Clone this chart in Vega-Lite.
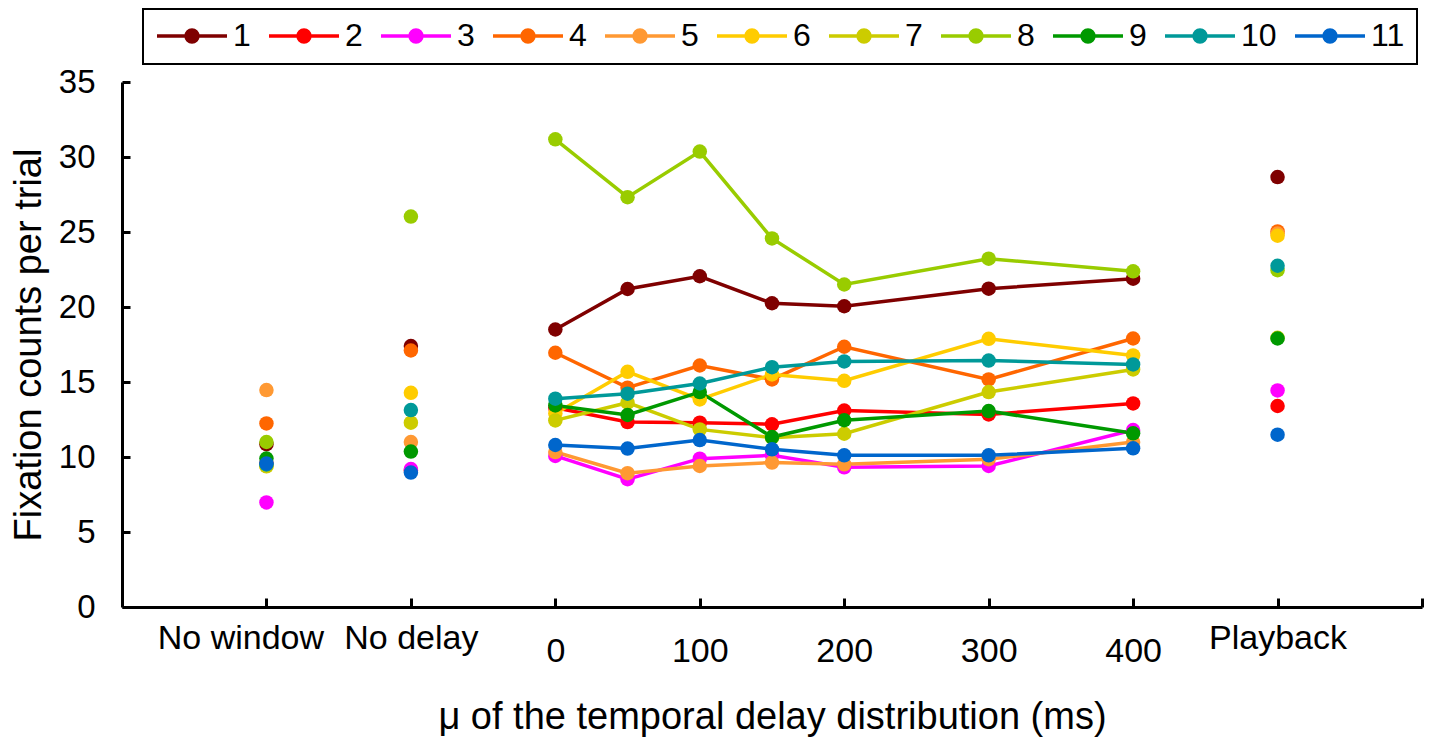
{
  "$schema": "https://vega.github.io/schema/vega-lite/v6.json",
  "width": 1300,
  "height": 525,
  "autosize": "none",
  "padding": {"left": 122, "top": 82, "right": 7, "bottom": 141},
  "background": "white",
  "config": {"view": {"stroke": null}, "font": "Liberation Sans"},
  "data": {
    "values": [
      {"subject": 1, "delay": -200, "fixations": 10.85},
      {"subject": 1, "delay": -100, "fixations": 17.4},
      {"subject": 1, "delay": 0, "fixations": 18.5},
      {"subject": 1, "delay": 50, "fixations": 21.2},
      {"subject": 1, "delay": 100, "fixations": 22.05},
      {"subject": 1, "delay": 150, "fixations": 20.25},
      {"subject": 1, "delay": 200, "fixations": 20.05},
      {"subject": 1, "delay": 300, "fixations": 21.22},
      {"subject": 1, "delay": 400, "fixations": 21.89},
      {"subject": 1, "delay": 500, "fixations": 28.66},
      {"subject": 2, "delay": -200, "fixations": 9.6},
      {"subject": 2, "delay": -100, "fixations": 9.1},
      {"subject": 2, "delay": 0, "fixations": 13.28},
      {"subject": 2, "delay": 50, "fixations": 12.33},
      {"subject": 2, "delay": 100, "fixations": 12.29},
      {"subject": 2, "delay": 150, "fixations": 12.18},
      {"subject": 2, "delay": 200, "fixations": 13.1},
      {"subject": 2, "delay": 300, "fixations": 12.84},
      {"subject": 2, "delay": 400, "fixations": 13.57},
      {"subject": 2, "delay": 500, "fixations": 13.4},
      {"subject": 3, "delay": -200, "fixations": 6.97},
      {"subject": 3, "delay": -100, "fixations": 9.2},
      {"subject": 3, "delay": 0, "fixations": 10.07},
      {"subject": 3, "delay": 50, "fixations": 8.52},
      {"subject": 3, "delay": 100, "fixations": 9.89},
      {"subject": 3, "delay": 150, "fixations": 10.11},
      {"subject": 3, "delay": 200, "fixations": 9.31},
      {"subject": 3, "delay": 300, "fixations": 9.4},
      {"subject": 3, "delay": 400, "fixations": 11.8},
      {"subject": 3, "delay": 500, "fixations": 14.44},
      {"subject": 4, "delay": -200, "fixations": 12.24},
      {"subject": 4, "delay": -100, "fixations": 17.1},
      {"subject": 4, "delay": 0, "fixations": 16.95},
      {"subject": 4, "delay": 50, "fixations": 14.62},
      {"subject": 4, "delay": 100, "fixations": 16.1},
      {"subject": 4, "delay": 150, "fixations": 15.17},
      {"subject": 4, "delay": 200, "fixations": 17.35},
      {"subject": 4, "delay": 300, "fixations": 15.17},
      {"subject": 4, "delay": 400, "fixations": 17.9},
      {"subject": 4, "delay": 500, "fixations": 25.04},
      {"subject": 5, "delay": -200, "fixations": 14.46},
      {"subject": 5, "delay": -100, "fixations": 11.0},
      {"subject": 5, "delay": 0, "fixations": 10.33},
      {"subject": 5, "delay": 50, "fixations": 8.92},
      {"subject": 5, "delay": 100, "fixations": 9.4},
      {"subject": 5, "delay": 150, "fixations": 9.63},
      {"subject": 5, "delay": 200, "fixations": 9.51},
      {"subject": 5, "delay": 300, "fixations": 9.85},
      {"subject": 5, "delay": 400, "fixations": 11.0},
      {"subject": 5, "delay": 500, "fixations": 24.9},
      {"subject": 6, "delay": -200, "fixations": 9.4},
      {"subject": 6, "delay": -100, "fixations": 14.28},
      {"subject": 6, "delay": 0, "fixations": 12.9},
      {"subject": 6, "delay": 50, "fixations": 15.68},
      {"subject": 6, "delay": 100, "fixations": 13.84},
      {"subject": 6, "delay": 150, "fixations": 15.5},
      {"subject": 6, "delay": 200, "fixations": 15.08},
      {"subject": 6, "delay": 300, "fixations": 17.88},
      {"subject": 6, "delay": 400, "fixations": 16.77},
      {"subject": 6, "delay": 500, "fixations": 24.75},
      {"subject": 7, "delay": -200, "fixations": 9.38},
      {"subject": 7, "delay": -100, "fixations": 12.29},
      {"subject": 7, "delay": 0, "fixations": 12.44},
      {"subject": 7, "delay": 50, "fixations": 13.62},
      {"subject": 7, "delay": 100, "fixations": 11.84},
      {"subject": 7, "delay": 150, "fixations": 11.29},
      {"subject": 7, "delay": 200, "fixations": 11.55},
      {"subject": 7, "delay": 300, "fixations": 14.33},
      {"subject": 7, "delay": 400, "fixations": 15.84},
      {"subject": 7, "delay": 500, "fixations": 17.95},
      {"subject": 8, "delay": -200, "fixations": 11.0},
      {"subject": 8, "delay": -100, "fixations": 26.03},
      {"subject": 8, "delay": 0, "fixations": 31.18},
      {"subject": 8, "delay": 50, "fixations": 27.32},
      {"subject": 8, "delay": 100, "fixations": 30.36},
      {"subject": 8, "delay": 150, "fixations": 24.57},
      {"subject": 8, "delay": 200, "fixations": 21.5},
      {"subject": 8, "delay": 300, "fixations": 23.22},
      {"subject": 8, "delay": 400, "fixations": 22.38},
      {"subject": 8, "delay": 500, "fixations": 22.45},
      {"subject": 9, "delay": -200, "fixations": 9.9},
      {"subject": 9, "delay": -100, "fixations": 10.36},
      {"subject": 9, "delay": 0, "fixations": 13.44},
      {"subject": 9, "delay": 50, "fixations": 12.8},
      {"subject": 9, "delay": 100, "fixations": 14.33},
      {"subject": 9, "delay": 150, "fixations": 11.33},
      {"subject": 9, "delay": 200, "fixations": 12.45},
      {"subject": 9, "delay": 300, "fixations": 13.06},
      {"subject": 9, "delay": 400, "fixations": 11.58},
      {"subject": 9, "delay": 500, "fixations": 17.9},
      {"subject": 10, "delay": -200, "fixations": 9.5},
      {"subject": 10, "delay": -100, "fixations": 13.13},
      {"subject": 10, "delay": 0, "fixations": 13.89},
      {"subject": 10, "delay": 50, "fixations": 14.22},
      {"subject": 10, "delay": 100, "fixations": 14.9},
      {"subject": 10, "delay": 150, "fixations": 15.99},
      {"subject": 10, "delay": 200, "fixations": 16.37},
      {"subject": 10, "delay": 300, "fixations": 16.43},
      {"subject": 10, "delay": 400, "fixations": 16.17},
      {"subject": 10, "delay": 500, "fixations": 22.75},
      {"subject": 11, "delay": -200, "fixations": 9.56},
      {"subject": 11, "delay": -100, "fixations": 8.96},
      {"subject": 11, "delay": 0, "fixations": 10.8},
      {"subject": 11, "delay": 50, "fixations": 10.56},
      {"subject": 11, "delay": 100, "fixations": 11.13},
      {"subject": 11, "delay": 150, "fixations": 10.51},
      {"subject": 11, "delay": 200, "fixations": 10.11},
      {"subject": 11, "delay": 300, "fixations": 10.11},
      {"subject": 11, "delay": 400, "fixations": 10.58},
      {"subject": 11, "delay": 500, "fixations": 11.49}
    ]
  },
  "encoding": {
    "x": {
      "field": "delay",
      "type": "quantitative",
      "scale": {"domain": [-300, 600], "nice": false, "zero": false},
      "axis": {
        "values": [-200, -100, 0, 100, 200, 300, 400, 500, 600],
        "labelExpr": "datum.value == -200 ? 'No window' : datum.value == -100 ? 'No delay' : datum.value == 500 ? 'Playback' : datum.value == 600 ? '' : datum.label",
        "title": "μ of the temporal delay distribution (ms)",
        "titleFont": "Liberation Sans",
        "titleFontSize": 38,
        "titleFontWeight": "normal",
        "titleColor": "black",
        "titlePadding": 30,
        "labelFont": "Liberation Sans",
        "labelFontSize": 34,
        "labelColor": "black",
        "labelPadding": {"condition": {"test": "datum.value < 0 || datum.value == 500", "value": 23}, "value": 36},
        "labelOffset": {"condition": {"test": "datum.value == -200", "value": -26}, "value": 0},
        "labelFlush": false,
        "labelOverlap": false,
        "labelBound": false,
        "tickSize": -9,
        "tickWidth": 3,
        "tickColor": "black",
        "domainWidth": 3,
        "domainColor": "black",
        "grid": false
      }
    },
    "y": {
      "field": "fixations",
      "type": "quantitative",
      "scale": {"domain": [0, 35], "nice": false},
      "axis": {
        "values": [0, 5, 10, 15, 20, 25, 30, 35],
        "title": "Fixation counts per trial",
        "titleFont": "Liberation Sans",
        "titleFontSize": 38,
        "titleFontWeight": "normal",
        "titleColor": "black",
        "titlePadding": 10,
        "labelFont": "Liberation Sans",
        "labelFontSize": 33,
        "labelColor": "black",
        "labelPadding": 35,
        "tickSize": -8,
        "tickWidth": 3,
        "tickColor": "black",
        "domainWidth": 3,
        "domainColor": "black",
        "grid": false
      }
    },
    "color": {
      "field": "subject",
      "type": "ordinal",
      "scale": {
        "domain": [1, 2, 3, 4, 5, 6, 7, 8, 9, 10, 11],
        "range": ["#7f0000", "#ff0000", "#ff00ff", "#ff6600", "#ff9933", "#ffcc00", "#cccc00", "#99cc00", "#009900", "#009999", "#0066cc"]
      },
      "legend": {
        "orient": "none",
        "legendX": 21,
        "legendY": -73,
        "direction": "horizontal",
        "columns": 11,
        "title": null,
        "symbolType": "M-1,0L1,0M0.17,0A0.17,0.17,0,1,1,-0.17,0A0.17,0.17,0,1,1,0.17,0Z",
        "symbolSize": 4900,
        "symbolStrokeWidth": 3.5,
        "symbolOpacity": 1,
        "clipHeight": 30,
        "labelFont": "Liberation Sans",
        "labelFontSize": 32,
        "labelColor": "black",
        "labelOffset": 4,
        "columnPadding": 16,
        "padding": 12,
        "strokeColor": "black",
        "fillColor": "white",
        "encode": {
          "symbols": {
            "update": {
              "fill": {"scale": "color", "field": "value"},
              "stroke": {"scale": "color", "field": "value"},
              "opacity": {"value": 1}
            }
          },
          "legend": {"update": {"strokeWidth": {"value": 2}}}
        }
      }
    }
  },
  "layer": [
    {
      "transform": [{"filter": "datum.delay >= 0 && datum.delay <= 400"}],
      "mark": {"type": "line", "strokeWidth": 3.5}
    },
    {
      "mark": {"type": "point", "filled": true, "size": 210, "opacity": 1}
    }
  ]
}
